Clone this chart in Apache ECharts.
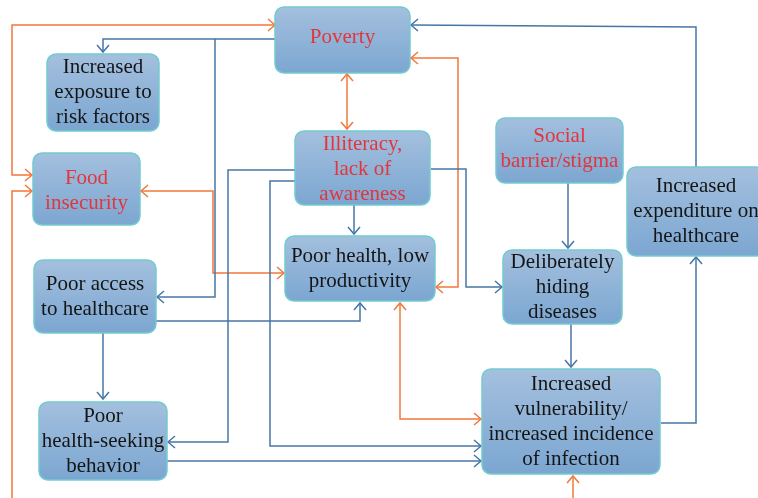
<!DOCTYPE html>
<html>
<head>
<meta charset="utf-8">
<script src="https://cdn.jsdelivr.net/npm/echarts@6/dist/echarts.min.js"></script>
<style>
  html, body { margin: 0; padding: 0; background: #fff; }
  #main { width: 758px; height: 498px; }
</style>
</head>
<body>
<div id="main"></div>
<script>
// boxes of the diagram, in picture units (0..758 x 0..498, y down)
var boxLabels = [
  'Poverty',
  'Increased\nexposure to\nrisk factors',
  'Food\ninsecurity',
  'Illiteracy,\nlack of\nawareness',
  'Social\nbarrier/stigma',
  'Increased\nexpenditure on\nhealthcare',
  'Poor health, low\nproductivity',
  'Poor access\nto healthcare',
  'Deliberately\nhiding\ndiseases',
  'Poor\nhealth-seeking\nbehavior',
  'Increased\nvulnerability/\nincreased incidence\nof infection'
];
var boxRed = [1, 0, 1, 1, 1, 0, 0, 0, 0, 0, 0];
var boxRects = [
  [275, 7, 410, 73],
  [47, 54, 159, 131],
  [33, 153, 140, 225],
  [295, 131, 430, 205],
  [496, 118, 623, 183],
  [627, 167, 765, 256],
  [285, 236, 435, 301],
  [34, 260, 156, 333],
  [503, 250, 622, 324],
  [39, 402, 167, 480],
  [482, 369, 660, 474]
];
var boxTextShift = [-3, 0, 2, 1, -2, 0, 0, 0, 0, 0, 0];

// connectors: route points, colour kind, arrow at start, arrow at end
var edgePaths = [
  [[275, 25], [12, 25], [12, 175], [32, 175]],
  [[12, 498], [12, 191], [32, 191]],
  [[141, 191], [213, 191], [213, 273], [284, 273]],
  [[347, 74], [347, 129]],
  [[411, 58], [458, 58], [458, 287], [436, 287]],
  [[400, 303], [400, 419], [481, 419]],
  [[573, 498], [573, 476]],
  [[275, 39], [103, 39], [103, 52]],
  [[215, 39], [215, 297], [157, 297]],
  [[295, 170], [228, 170], [228, 442], [168, 442]],
  [[295, 181], [270, 181], [270, 446], [481, 446]],
  [[354, 205], [354, 234]],
  [[431, 169], [466, 169], [466, 287], [502, 287]],
  [[156, 321], [360, 321], [360, 303]],
  [[103, 333], [103, 399]],
  [[167, 461], [481, 461]],
  [[568, 183], [568, 248]],
  [[571, 324], [571, 367]],
  [[661, 423], [696, 423], [696, 257]],
  [[696, 167], [696, 27], [411, 25]]
];
var edgeOrange = [1, 1, 1, 1, 1, 1, 1, 0, 0, 0, 0, 0, 0, 0, 0, 0, 0, 0, 0, 0];
var edgeStartArrow = [1, 0, 1, 1, 1, 1, 0, 0, 0, 0, 0, 0, 0, 0, 0, 0, 0, 0, 0, 0];

var BLUE = '#4776a6';
var ORANGE = '#f2783c';

var chartDom = document.getElementById('main');
var myChart = echarts.init(chartDom);

function chevron(tip, from, len, half) {
  var dx = tip[0] - from[0], dy = tip[1] - from[1];
  var d = Math.sqrt(dx * dx + dy * dy) || 1;
  var ux = dx / d, uy = dy / d;
  var bx = tip[0] - ux * len, by = tip[1] - uy * len;
  return [[bx - uy * half, by + ux * half], tip, [bx + uy * half, by - ux * half]];
}

function renderEdge(params, api) {
  var i = params.dataIndex;
  var pts = edgePaths[i].map(function (p) { return api.coord(p); });
  var color = edgeOrange[i] ? ORANGE : BLUE;
  var lineStyle = { stroke: color, lineWidth: 1.5, fill: null };
  var children = [{ type: 'polyline', shape: { points: pts }, style: lineStyle }];
  var n = pts.length;
  children.push({ type: 'polyline', shape: { points: chevron(pts[n - 1], pts[n - 2], 7, 6) }, style: lineStyle });
  if (edgeStartArrow[i]) {
    children.push({ type: 'polyline', shape: { points: chevron(pts[0], pts[1], 7, 6) }, style: lineStyle });
  }
  return { type: 'group', children: children };
}

function renderBox(params, api) {
  var i = params.dataIndex;
  var p0 = api.coord([api.value(0), api.value(1)]);
  var p1 = api.coord([api.value(2), api.value(3)]);
  var w = p1[0] - p0[0], h = p1[1] - p0[1];
  return {
    type: 'group',
    children: [
      {
        type: 'rect',
        shape: { x: p0[0], y: p0[1], width: w, height: h, r: 9 },
        style: {
          fill: new echarts.graphic.LinearGradient(0, 0, 0, 1, [
            { offset: 0, color: '#a4c0de' },
            { offset: 1, color: '#7ba6d1' }
          ]),
          stroke: '#72cbcf',
          lineWidth: 1.5
        }
      },
      {
        type: 'text',
        style: {
          text: boxLabels[i],
          x: p0[0] + w / 2,
          y: p0[1] + h / 2 + boxTextShift[i],
          align: 'center',
          verticalAlign: 'middle',
          font: '21px "Liberation Serif"',
          lineHeight: 25,
          fill: boxRed[i] ? '#e3353c' : '#151515'
        }
      }
    ]
  };
}

var option = {
  animation: false,
  grid: { left: 0, right: 0, top: 0, bottom: 0 },
  xAxis: { type: 'value', min: 0, max: 758, show: false },
  yAxis: { type: 'value', min: 0, max: 498, inverse: true, show: false },
  series: [
    {
      type: 'custom',
      renderItem: renderEdge,
      data: edgePaths.map(function (p) { return p[0]; }),
      silent: true
    },
    {
      type: 'custom',
      renderItem: renderBox,
      encode: { x: [0, 2], y: [1, 3] },
      data: boxRects,
      silent: true
    }
  ]
};

myChart.setOption(option);
</script>
</body>
</html>
